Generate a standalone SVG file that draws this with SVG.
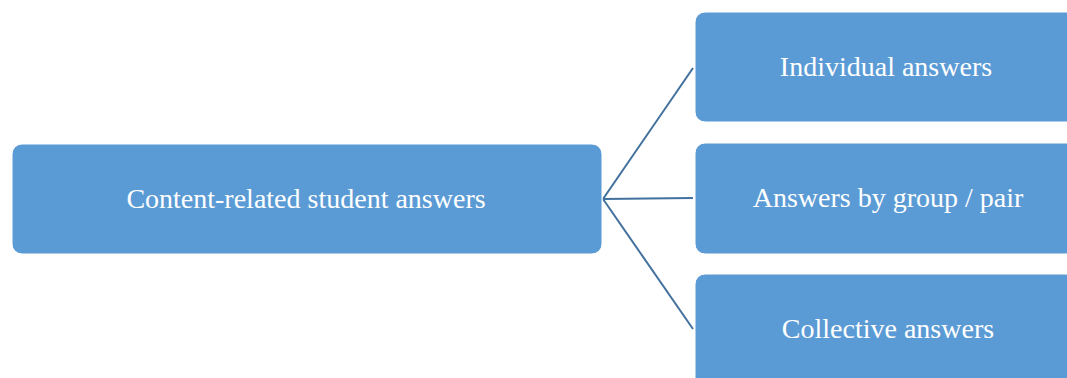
<svg xmlns="http://www.w3.org/2000/svg" width="1067" height="378" viewBox="0 0 1067 378">
<style>
.box{fill:#5B9BD5;stroke:#FFFFFF;stroke-width:1}
.lbl{font-family:"Liberation Serif","DejaVu Serif",serif;font-size:28px;fill:#FFFFFF;text-anchor:middle}
.con{stroke:#41719C;stroke-width:2;fill:none}
</style>
<rect width="1067" height="378" fill="#FFFFFF"/>
<g id="connectors">
<line class="con" x1="603" y1="199" x2="693" y2="68"/>
<line class="con" x1="603" y1="199" x2="693" y2="198"/>
<line class="con" x1="603" y1="199" x2="693" y2="329"/>
</g>
<g id="n-root">
<rect class="box" x="12" y="144" width="590" height="110" rx="10"/>
<text class="lbl" x="306" y="208">Content-related student answers</text>
</g>
<g id="n-individual">
<rect class="box" x="695" y="12" width="385" height="110" rx="10"/>
<text class="lbl" x="886" y="76">Individual answers</text>
</g>
<g id="n-group">
<rect class="box" x="695" y="143" width="385" height="111" rx="10"/>
<text class="lbl" x="888" y="207">Answers by group / pair</text>
</g>
<g id="n-collective">
<rect class="box" x="695" y="274" width="385" height="120" rx="10"/>
<text class="lbl" x="888" y="338">Collective answers</text>
</g>
</svg>
